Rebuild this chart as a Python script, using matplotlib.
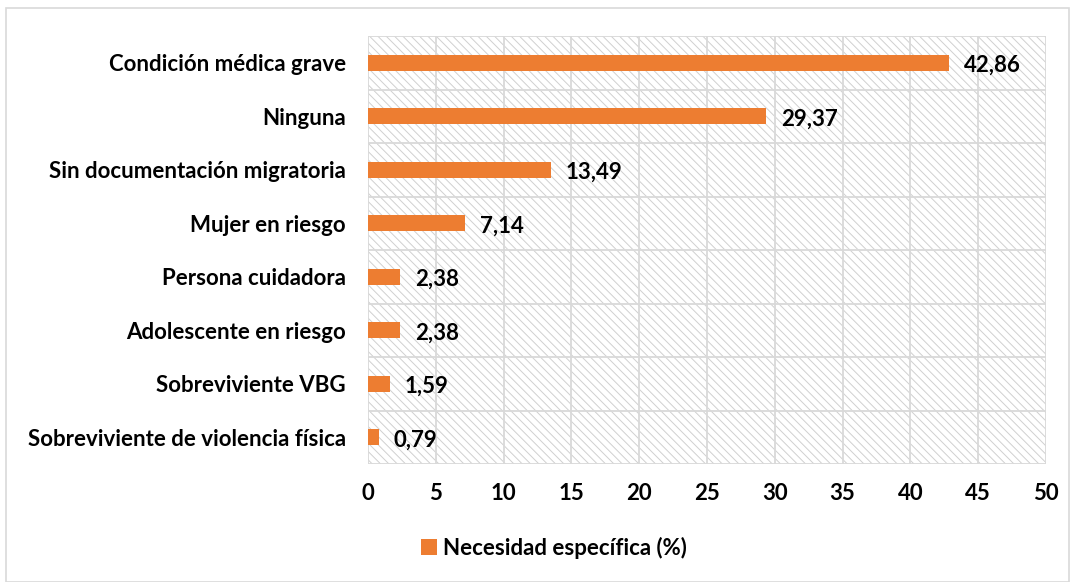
import matplotlib
matplotlib.use("Agg")
import matplotlib.pyplot as plt
from matplotlib.patches import Rectangle, Patch

plt.rcParams['font.family'] = ['Lato', 'DejaVu Sans']
plt.rcParams['hatch.color'] = '#d0d0d0'
plt.rcParams['hatch.linewidth'] = 0.7

categories = ["Condición médica grave", "Ninguna", "Sin documentación migratoria",
              "Mujer en riesgo", "Persona cuidadora", "Adolescente en riesgo",
              "Sobreviviente VBG", "Sobreviviente de violencia física"]
values = [42.86, 29.37, 13.49, 7.14, 2.38, 2.38, 1.59, 0.79]
value_labels = ["42,86", "29,37", "13,49", "7,14", "2,38", "2,38", "1,59", "0,79"]
series_name = "Necesidad específica (%)"
xticks = [0, 5, 10, 15, 20, 25, 30, 35, 40, 45, 50]

FS = 16
FW = 'bold'

fig = plt.figure(figsize=(10.75, 5.82), dpi=100)
fig.patches.append(Rectangle((6/1075, 0.0), 1 - 12/1075, 1 - 8/582, transform=fig.transFigure,
                             fill=False, edgecolor='#d9d9d9', linewidth=1.2))
ax = fig.add_axes([368/1075, 1 - 464/582, (1046-368)/1075, (464-36)/582])

n = len(categories)
ypos = list(range(n))[::-1]
ax.set_xlim(0, 50)
ax.set_ylim(-0.5, n - 0.5)

# hatched background
ax.add_patch(Rectangle((0, -0.5), 50, n, facecolor='white', edgecolor='#d0d0d0',
                       hatch='\\\\\\\\', linewidth=0, zorder=0))

for x in xticks:
    ax.axvline(x, color='#d9d9d9', lw=1.3, zorder=1)
for k in range(n + 1):
    ax.axhline(k - 0.5, color='#d9d9d9', lw=1.3, zorder=1)

ax.barh(ypos, values, height=0.3, color='#ED7D31', zorder=3)
for y, v, lab in zip(ypos, values, value_labels):
    ax.text(v + 1.1, y - 0.05, lab, va='center', ha='left', fontsize=FS, fontweight=FW,
            color='black', zorder=4)

ax.set_yticks(ypos)
ax.set_yticklabels(categories, fontsize=FS, fontweight=FW)
ax.set_xticks(xticks)
ax.set_xticklabels([str(t) for t in xticks], fontsize=FS, fontweight=FW)
ax.tick_params(axis='both', length=0)
ax.tick_params(axis='y', pad=16)
ax.tick_params(axis='x', pad=14)
for s in ax.spines.values():
    s.set_visible(False)

handle = Patch(facecolor='#ED7D31', edgecolor='none')
fig.legend([handle], [series_name], loc='center', bbox_to_anchor=(554/1075, 1 - 548/582),
           frameon=False, prop={'weight': FW, 'size': FS},
           handlelength=0.7, handleheight=0.7, handletextpad=0.3)

fig.savefig("out.png", dpi=100)
